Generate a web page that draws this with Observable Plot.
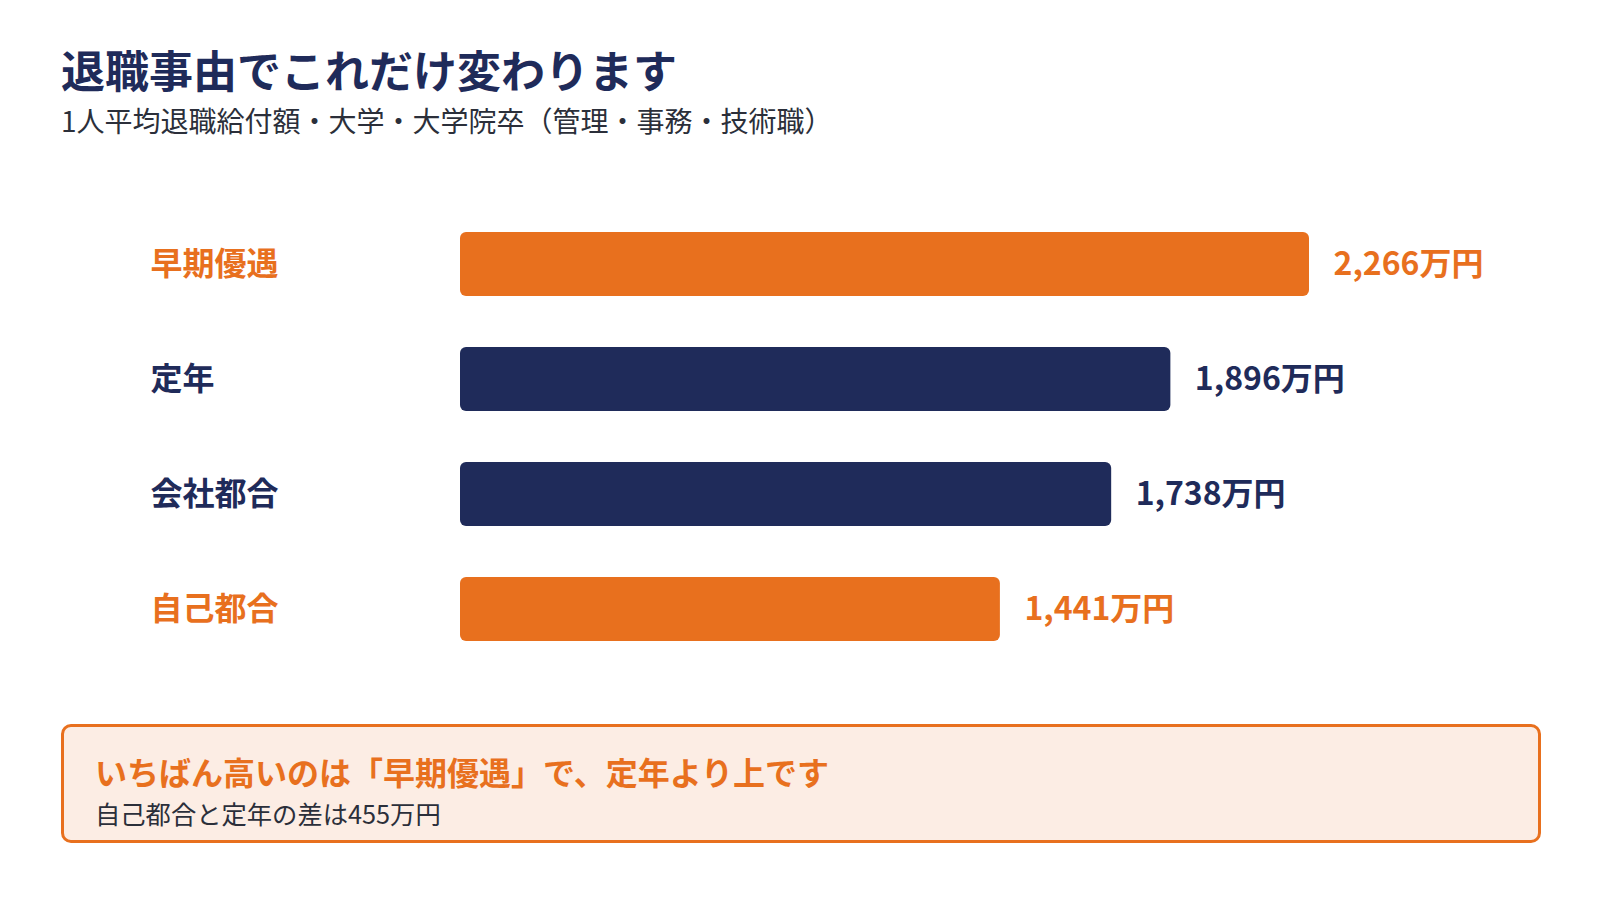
<!DOCTYPE html>
<html lang="ja">
<head>
<meta charset="utf-8">
<script src="https://cdn.jsdelivr.net/npm/d3@7"></script>
<script src="https://cdn.jsdelivr.net/npm/@observablehq/plot@0.6"></script>
<style>
  html, body { margin: 0; padding: 0; background: #fff; }
  body { width: 1600px; height: 899px; position: relative; overflow: hidden;
         font-family: "Noto Sans CJK JP", "Noto Sans", sans-serif; }
  #title { position: absolute; left: 61px; top: 47px; font-size: 44px; font-weight: 700;
           color: #1F2B5A; line-height: 1; white-space: nowrap; }
  #subtitle { position: absolute; left: 61px; top: 106px; font-size: 28px; font-weight: 400;
              color: #2b2f3a; line-height: 1; white-space: nowrap; }
  #chart { position: absolute; left: 0; top: 170px; }
  #callout { position: absolute; left: 61px; top: 724px; width: 1474px; height: 113px;
             border: 3px solid #E8701E; border-radius: 10px; background: #FCEDE4; }
  #callout .head { position: absolute; left: 31px; top: 28px; font-size: 32px; font-weight: 700;
                   color: #E8701E; line-height: 1; white-space: nowrap; }
  #callout .sub { position: absolute; left: 31px; top: 74px; font-size: 25.3px; color: #2b2f3a;
                  line-height: 1; white-space: nowrap; }
</style>
</head>
<body>
<div id="title">退職事由でこれだけ変わります</div>
<div id="subtitle">1人平均退職給付額・大学・大学院卒（管理・事務・技術職）</div>
<div id="chart"></div>
<div id="callout">
  <div class="head">いちばん高いのは「早期優遇」で、定年より上です</div>
  <div class="sub">自己都合と定年の差は455万円</div>
</div>
<script>
const categories = ["早期優遇", "定年", "会社都合", "自己都合"];
const values = [2266, 1896, 1738, 1441];
const colors = ["#E8701E", "#1F2B5A", "#1F2B5A", "#E8701E"];
const unit = "万円";

const data = categories.map((c, i) => ({category: c, value: values[i], color: colors[i]}));
const fmt = d3.format(",");

const plot = Plot.plot({
  width: 1600,
  height: 540,
  marginLeft: 0, marginRight: 0, marginTop: 0, marginBottom: 0,
  x: {domain: [0, 2266], range: [460, 1309], axis: null},
  y: {domain: categories, range: [9, 524], padding: 0.44, axis: null},
  style: {fontFamily: "'Noto Sans CJK JP', 'Noto Sans', sans-serif", background: "transparent"},
  marks: [
    Plot.barX(data, {x: "value", y: "category", fill: "color", rx: 6}),
    Plot.text(data, {x: 0, y: "category", text: "category", fill: "color", dx: -310,
      textAnchor: "start", fontSize: 32, fontWeight: 700}),
    Plot.text(data, {x: "value", y: "category", text: d => fmt(d.value) + unit, fill: "color",
      dx: 24, textAnchor: "start", fontSize: 32, fontWeight: 700})
  ]
});
document.getElementById("chart").appendChild(plot);
</script>
</body>
</html>
